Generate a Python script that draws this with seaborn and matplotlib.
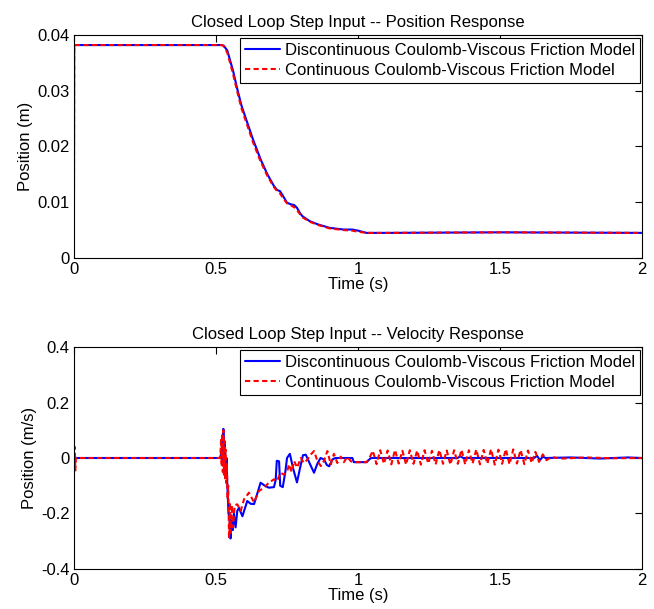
import matplotlib
matplotlib.use("Agg")
import matplotlib.pyplot as plt
import seaborn as sns
import pandas as pd
from matplotlib.ticker import FuncFormatter

# ---------------- data ----------------
pos_t = [0.0, 0.001, 0.52, 0.527, 0.54, 0.56, 0.575, 0.59, 0.61, 0.63, 0.657,
         0.68, 0.704, 0.715, 0.725, 0.735, 0.75, 0.765, 0.775, 0.785, 0.795,
         0.804, 0.83, 0.86, 0.90, 0.95, 0.98, 1.0, 1.03, 1.1, 1.5, 2.0]
pos_disc = [0.0, 0.0382, 0.0382, 0.0381, 0.0372, 0.0336, 0.0303, 0.0273,
            0.0243, 0.0213, 0.0177, 0.0151, 0.0129, 0.0122, 0.0120, 0.0112,
            0.0099, 0.0096, 0.0095, 0.0090, 0.0081, 0.0075, 0.0066, 0.0060,
            0.0054, 0.0051, 0.0051, 0.0049, 0.0045, 0.0045, 0.0046, 0.0045]
pos_cont = [0.0, 0.0382, 0.0382, 0.0380, 0.0368, 0.0330, 0.0298, 0.0268,
            0.0238, 0.0208, 0.0173, 0.0148, 0.0127, 0.0120, 0.0116, 0.0108,
            0.0098, 0.0094, 0.0091, 0.0086, 0.0079, 0.0073, 0.0065, 0.0059,
            0.0053, 0.0050, 0.0049, 0.0047, 0.0045, 0.0045, 0.0046, 0.0045]

vel_disc_t = [0.0, 0.515, 0.520, 0.523, 0.526, 0.529, 0.531, 0.534, 0.537,
              0.540, 0.544, 0.548, 0.551, 0.555, 0.559, 0.563, 0.569, 0.575,
              0.581, 0.593, 0.610, 0.622, 0.634, 0.657, 0.672, 0.686, 0.704,
              0.710, 0.714, 0.722, 0.726, 0.735, 0.744, 0.750, 0.760, 0.772,
              0.785, 0.795, 0.806, 0.816, 0.830, 0.845, 0.857, 0.868, 0.880,
              0.890, 0.898, 0.910, 0.920, 0.980, 0.985, 1.030, 1.045, 1.350,
              1.360, 1.370, 1.620, 1.630, 1.640, 1.650, 1.660, 1.750, 1.850,
              1.950, 2.0]
vel_disc = [0.0, 0.0, 0.03, -0.02, 0.105, 0.0, 0.06, -0.05, 0.0,
            -0.10, -0.20, -0.22, -0.29, -0.22, -0.26, -0.20, -0.25, -0.19,
            -0.18, -0.21, -0.155, -0.165, -0.166, -0.089, -0.100, -0.107, -0.105,
            -0.080, -0.010, -0.012, -0.100, -0.105, -0.050, 0.0, 0.015, -0.040,
            -0.088, -0.040, 0.010, 0.012, -0.020, -0.053, -0.020, 0.0, -0.005,
            -0.025, -0.030, -0.005, 0.0, 0.0, -0.015, -0.015, 0.0, 0.0,
            0.006, 0.0, 0.0, 0.008, -0.008, 0.005, 0.0, 0.002, -0.002,
            0.002, 0.0]

vel_cont_t = [0.0, 0.003, 0.005, 0.007, 0.514, 0.516, 0.518, 0.520, 0.522,
              0.524, 0.526, 0.528, 0.530, 0.532, 0.534, 0.536, 0.538, 0.541,
              0.543, 0.546, 0.549, 0.552, 0.556, 0.560, 0.566, 0.575, 0.587,
              0.599, 0.616, 0.634, 0.651, 0.669, 0.686, 0.704, 0.715, 0.727,
              0.739, 0.751, 0.757, 0.766, 0.775, 0.786, 0.798, 0.810, 0.822,
              0.834, 0.845, 0.857, 0.869, 0.880, 0.892, 0.904, 0.915, 0.927,
              0.939, 0.950, 0.962, 0.975, 0.985, 1.030, 1.040, 1.052, 1.065,
              1.078, 1.091, 1.104, 1.117, 1.130, 1.143, 1.156, 1.169, 1.182,
              1.195, 1.208, 1.221, 1.234, 1.247, 1.260, 1.273, 1.286, 1.299,
              1.312, 1.325, 1.338, 1.351, 1.364, 1.377, 1.390, 1.403, 1.416,
              1.429, 1.442, 1.455, 1.468, 1.481, 1.494, 1.507, 1.520, 1.533,
              1.546, 1.559, 1.572, 1.585, 1.598, 1.611, 1.624, 1.637, 1.650,
              1.663, 1.680, 1.720, 1.800, 1.900, 2.0]
vel_cont = [0.0, 0.04, -0.045, 0.0, 0.0, 0.02, 0.07, -0.03, 0.09,
            -0.05, 0.10, -0.06, 0.06, -0.08, 0.03, -0.09, -0.02, -0.15,
            -0.10, -0.29, -0.16, -0.27, -0.17, -0.25, -0.17, -0.167, -0.19,
            -0.148, -0.125, -0.160, -0.119, -0.107, -0.089, -0.077, -0.083, -0.053,
            -0.060, -0.047, -0.023, -0.050, -0.011, -0.035, 0.0, -0.018, -0.005,
            0.013, 0.025, -0.011, -0.029, -0.010, 0.025, -0.023, 0.015, -0.018,
            0.005, -0.015, 0.004, -0.012, -0.015, -0.015, 0.0, 0.026, -0.022,
            0.028, -0.021, 0.027, -0.023, 0.029, -0.020, 0.026, -0.024, 0.028,
            -0.021, 0.027, -0.024, 0.028, -0.020, 0.026, -0.023, 0.029, -0.021,
            0.027, -0.024, 0.028, -0.021, 0.030, -0.023, 0.028, -0.020, 0.031,
            -0.023, 0.029, -0.021, 0.032, -0.024, 0.030, -0.021, 0.032, -0.023,
            0.031, -0.020, 0.029, -0.022, 0.027, -0.018, 0.022, -0.014, 0.013,
            -0.008, 0.003, -0.002, 0.002, -0.001, 0.0]

x_ticks = [0, 0.5, 1, 1.5, 2]
pos_ticks = [0, 0.01, 0.02, 0.03, 0.04]
vel_ticks = [-0.4, -0.2, 0, 0.2, 0.4]

label_disc = "Discontinuous Coulomb-Viscous Friction Model"
label_cont = "Continuous Coulomb-Viscous Friction Model"

# ---------------- style ----------------
sns.set_style("white")
plt.rcParams["font.family"] = ["Liberation Sans", "DejaVu Sans"]
plt.rcParams["font.size"] = 12
plt.rcParams["text.color"] = "black"
plt.rcParams["axes.labelcolor"] = "black"
plt.rcParams["xtick.color"] = "black"
plt.rcParams["ytick.color"] = "black"

fig = plt.figure(figsize=(6.54, 6.09), dpi=100)
ax1 = fig.add_axes([0.113, 0.5764, 0.869, 0.3661])
ax2 = fig.add_axes([0.113, 0.0657, 0.869, 0.3645])

df_pos = pd.DataFrame({"t": pos_t, "disc": pos_disc, "cont": pos_cont})
df_vd = pd.DataFrame({"t": vel_disc_t, "v": vel_disc})
df_vc = pd.DataFrame({"t": vel_cont_t, "v": vel_cont})

red_dash = (2.5, 1.6)

sns.lineplot(data=df_pos, x="t", y="disc", ax=ax1, color="#0000ff", lw=1.5,
             estimator=None, sort=False, label=label_disc)
sns.lineplot(data=df_pos, x="t", y="cont", ax=ax1, color="#ff0000", lw=1.5,
             dashes=red_dash, estimator=None, sort=False, label=label_cont)

sns.lineplot(data=df_vd, x="t", y="v", ax=ax2, color="#0000ff", lw=1.5,
             estimator=None, sort=False, label=label_disc)
sns.lineplot(data=df_vc, x="t", y="v", ax=ax2, color="#ff0000", lw=1.5,
             dashes=red_dash, estimator=None, sort=False, label=label_cont)

for ax in (ax1, ax2):
    ax.lines[1].set_dashes(red_dash)

fmt = FuncFormatter(lambda v, p: ("%g" % v).replace("\u2212", "-"))

for ax, yt, ylim, title, ylab in [
    (ax1, pos_ticks, (0, 0.04), "Closed Loop Step Input -- Position Response", "Position (m)"),
    (ax2, vel_ticks, (-0.4, 0.4), "Closed Loop Step Input -- Velocity Response", "Position (m/s)"),
]:
    ax.set_xlim(0, 2)
    ax.set_ylim(*ylim)
    ax.set_xticks(x_ticks)
    ax.set_yticks(yt)
    ax.xaxis.set_major_formatter(fmt)
    ax.yaxis.set_major_formatter(fmt)
    ax.tick_params(direction="in", top=True, right=True, length=5, width=0.8,
                   labelsize=12, colors="black", pad=3)
    for s in ax.spines.values():
        s.set_visible(True)
        s.set_color("black")
        s.set_linewidth(0.8)
    ax.set_title(title, fontsize=12, pad=6, color="black")
    ax.set_xlabel("Time (s)", fontsize=12, labelpad=0, color="black")
    ax.set_ylabel(ylab, fontsize=12, labelpad=3, color="black")
    leg = ax.legend(loc="upper right", fontsize=12, frameon=True, fancybox=False,
                    edgecolor="black", framealpha=1, handlelength=2.1,
                    borderaxespad=0.15, borderpad=0.3, labelspacing=0.3,
                    handletextpad=0.25)
    leg.get_frame().set_linewidth(0.8)
    leg.get_lines()[1].set_dashes(red_dash)
    for txt in leg.get_texts():
        txt.set_color("black")

fig.savefig("out.png", dpi=100)
